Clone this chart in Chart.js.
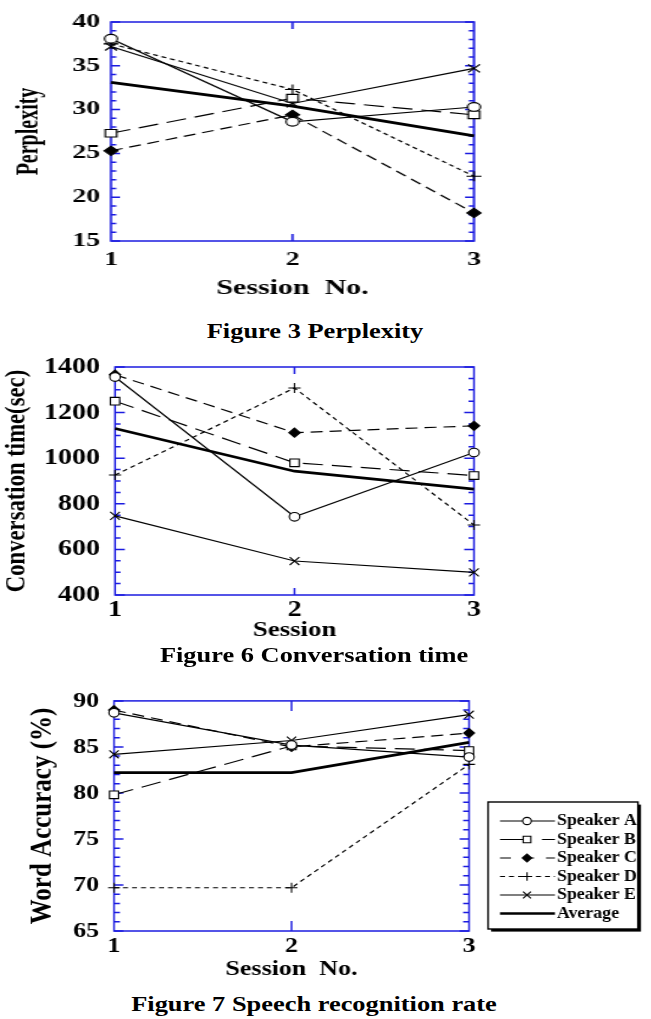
<!DOCTYPE html>
<html><head><meta charset="utf-8">
<script src="https://cdn.jsdelivr.net/npm/chart.js@4.4.0/dist/chart.umd.min.js"></script>
<style>
html,body{margin:0;padding:0;background:#fff;}
body{width:651px;height:1019px;overflow:hidden;position:relative;}
.wrap{position:absolute;left:0;transform-origin:0 0;}
.wrap canvas{display:block;}
.cap{position:absolute;font:bold 22px "Liberation Serif","Times New Roman",serif;white-space:nowrap;line-height:1;color:#000;transform:translate(-50%,-50%) scaleX(1.2);}
</style></head><body>
<div class="wrap" style="top:0;transform:scaleX(1.5)"><canvas id="c1" width="434" height="301"></canvas></div>
<div class="cap" style="left:315px;top:331px">Figure 3 Perplexity</div>
<div class="wrap" style="top:340px;transform:scaleX(1.22)"><canvas id="c2" width="534" height="304"></canvas></div>
<div class="cap" style="left:314px;top:655px">Figure 6 Conversation time</div>
<div class="wrap" style="top:675px;transform:scaleX(1.18)"><canvas id="c3" width="552" height="308"></canvas></div>
<div class="cap" style="left:314px;top:1004px">Figure 7 Speech recognition rate</div>
<script>
// ---------------- data ----------------
const sessions = ['1', '2', '3'];
const seriesNames = ['Speaker A', 'Speaker B', 'Speaker C', 'Speaker D', 'Speaker E', 'Average'];

// Figure 3 Perplexity
const pplA   = [38.1, 28.6, 30.3];
const pplB   = [27.3, 31.3, 29.4];
const pplC   = [25.3, 29.4, 18.2];
const pplD   = [37.5, 32.3, 22.4];
const pplE   = [37.2, 30.7, 34.7];
const pplAvg = [33.1, 30.4, 27.0];
const pplTicks = [15, 20, 25, 30, 35, 40];

// Figure 6 Conversation time (sec)
const convA   = [1356, 743, 1025];
const convB   = [1250, 980, 924];
const convC   = [1366, 1112, 1142];
const convD   = [926, 1308, 707];
const convE   = [747, 549, 499];
const convAvg = [1130, 943, 864];
const convTicks = [400, 600, 800, 1000, 1200, 1400];

// Figure 7 Word accuracy (%)
const accA   = [88.7, 85.2, 83.9];
const accB   = [79.8, 85.1, 84.6];
const accC   = [89.0, 85.0, 86.5];
const accD   = [69.7, 69.7, 83.1];
const accE   = [84.2, 85.7, 88.5];
const accAvg = [82.2, 82.2, 85.5];
const accTicks = [65, 70, 75, 80, 85, 90];

// ---------------- styles ----------------
const FONT = '"Liberation Serif","Times New Roman",serif';
const BLUE = '#1c1ce0';
const seriesStyle = [
  {point: 'circle',   r: 4.3, fill: '#ffffff', dash: [],      lw: 1.2, legendDash: []},
  {point: 'rect',     r: 5.4, fill: '#ffffff', dash: [20, 9], lw: 1.2, legendDash: [28, 14]},
  {point: 'rectRot',  r: 4.6, fill: '#000000', dash: [12, 7], lw: 1.2, legendDash: [11, 12]},
  {point: 'cross',    r: 5.0, fill: '#000000', dash: [5, 4],  lw: 1.2, legendDash: [5, 4]},
  {point: 'crossRot', r: 5.6, fill: '#000000', dash: [],      lw: 1.2, legendDash: []},
  {point: false,      r: 0,   fill: '#000000', dash: [],      lw: 2.7, legendDash: []}
];

Chart.defaults.font.family = FONT;
Chart.defaults.color = '#000';

function drawMarker(ctx, style, r, x, y, fill, bw) {
  ctx.save();
  ctx.fillStyle = fill; ctx.strokeStyle = '#000'; ctx.lineWidth = bw;
  if (Chart.helpers && Chart.helpers.drawPoint) {
    Chart.helpers.drawPoint(ctx, {pointStyle: style, radius: r, rotation: 0, borderWidth: bw}, x, y);
  } else {
    ctx.beginPath();
    if (style === 'circle') ctx.arc(x, y, r, 0, Math.PI * 2);
    else if (style === 'rect') { const s = r * Math.SQRT1_2; ctx.rect(x - s, y - s, 2 * s, 2 * s); }
    else if (style === 'rectRot') { ctx.moveTo(x - r, y); ctx.lineTo(x, y - r); ctx.lineTo(x + r, y); ctx.lineTo(x, y + r); ctx.closePath(); }
    else if (style === 'cross') { ctx.moveTo(x - r, y); ctx.lineTo(x + r, y); ctx.moveTo(x, y - r); ctx.lineTo(x, y + r); }
    else if (style === 'crossRot') { const s = r * Math.SQRT1_2; ctx.moveTo(x - s, y - s); ctx.lineTo(x + s, y + s); ctx.moveTo(x - s, y + s); ctx.lineTo(x + s, y - s); }
    if (style !== 'cross' && style !== 'crossRot') ctx.fill();
    ctx.stroke();
  }
  ctx.restore();
}

function framePlugin(f) {
  return {
    id: 'frameTicks',
    beforeDatasetsDraw(chart) {
      const ctx = chart.ctx, a = chart.chartArea, x = chart.scales.x, y = chart.scales.y;
      ctx.save();
      ctx.strokeStyle = BLUE; ctx.lineWidth = f.lw;
      ctx.beginPath();
      const n = Math.round((y.max - y.min) / f.minor);
      for (let k = 0; k <= n; k++) {
        const v = y.min + k * f.minor;
        const py = y.getPixelForValue(v);
        const major = Math.abs((v - y.min) / f.major - Math.round((v - y.min) / f.major)) < 1e-6;
        const len = major ? f.majorLen : f.minorLen;
        ctx.moveTo(a.left, py); ctx.lineTo(a.left + len, py);
        ctx.moveTo(a.right, py); ctx.lineTo(a.right - len, py);
      }
      for (let i = 1; i < chart.data.labels.length - 1; i++) {
        const px = x.getPixelForValue(i);
        ctx.moveTo(px, a.bottom); ctx.lineTo(px, a.bottom - f.xLen);
        ctx.moveTo(px, a.top); ctx.lineTo(px, a.top + f.xLen);
      }
      ctx.stroke();
      ctx.strokeRect(a.left, a.top, a.right - a.left, a.bottom - a.top);
      ctx.restore();
    }
  };
}

function legendPlugin(L) {
  return {
    id: 'boxLegend',
    afterDraw(chart) {
      const ctx = chart.ctx;
      ctx.save();
      ctx.fillStyle = '#000';
      ctx.fillRect(L.x + L.shadow, L.y + L.shadow, L.w, L.h);
      ctx.fillStyle = '#fff';
      ctx.fillRect(L.x, L.y, L.w, L.h);
      ctx.strokeStyle = '#000'; ctx.lineWidth = 1.4;
      ctx.strokeRect(L.x, L.y, L.w, L.h);
      chart.data.datasets.forEach((ds, i) => {
        const yy = L.rowY + i * L.rowH;
        ctx.strokeStyle = '#000';
        ctx.lineWidth = ds.borderWidth;
        ctx.setLineDash(seriesStyle[i].legendDash.map(d => d / L.s));
        ctx.beginPath(); ctx.moveTo(L.x1, yy); ctx.lineTo(L.x2, yy); ctx.stroke();
        ctx.setLineDash([]);
        if (ds.pointRadius > 0) drawMarker(ctx, ds.pointStyle, ds.pointRadius * 0.85, L.xm, yy, ds.pointBackgroundColor, ds.pointBorderWidth);
        ctx.save();
        ctx.translate(L.xt, yy);
        ctx.scale(L.textSX, 1);
        ctx.fillStyle = '#000';
        ctx.font = L.font;
        ctx.textBaseline = 'middle'; ctx.textAlign = 'left';
        ctx.fillText(ds.label, 0, 0);
        ctx.restore();
      });
      ctx.restore();
    }
  };
}

function buildDatasets(values, s) {
  return values.map((vals, i) => {
    const st = seriesStyle[i];
    return {
      label: seriesNames[i],
      data: vals,
      borderColor: '#000',
      borderWidth: st.lw,
      borderDash: st.dash.map(d => d / s),
      pointStyle: st.point || 'circle',
      pointRadius: st.point ? st.r : 0,
      pointBackgroundColor: st.fill,
      pointBorderColor: '#000',
      pointBorderWidth: 1.1,
      fill: false,
      tension: 0,
      clip: false
    };
  });
}

function makeChart(id, values, ticks, c) {
  const plugins = [framePlugin(c.frame)];
  if (c.legend) plugins.push(legendPlugin(c.legend));
  return new Chart(document.getElementById(id), {
    type: 'line',
    data: {labels: sessions, datasets: buildDatasets(values, c.s)},
    options: {
      responsive: false, animation: false, devicePixelRatio: 1,
      layout: {padding: c.pad},
      plugins: {legend: {display: false}, tooltip: {enabled: false}},
      scales: {
        x: {
          type: 'category', offset: false,
          grid: {display: false, drawTicks: false, tickLength: 0},
          border: {display: false},
          ticks: {font: {size: c.xTickSize, weight: 'bold'}, color: '#000', padding: c.xTickPad, maxRotation: 0, autoSkip: false},
          title: {display: true, text: c.xTitle, color: '#000', font: {size: c.xTitleSize, weight: 'bold'}, padding: {top: 0, bottom: c.xTitlePad}},
          afterFit: (sc) => { sc.height = c.xHeight; }
        },
        y: {
          type: 'linear', min: ticks[0], max: ticks[ticks.length - 1],
          grid: {display: false, drawTicks: false, tickLength: 0},
          border: {display: false},
          ticks: {stepSize: ticks[1] - ticks[0], font: {size: c.yTickSize, weight: 'bold'}, color: '#000', padding: c.yTickPad, autoSkip: false, callback: (v) => String(v)},
          title: {display: true, text: c.yTitle, color: '#000', font: {size: c.yTitleSize, weight: c.yTitleWeight}, padding: {top: c.yTitlePad, bottom: 0}},
          afterFit: (sc) => { sc.width = c.yWidth; }
        }
      }
    },
    plugins
  });
}

makeChart('c1', [pplA, pplB, pplC, pplD, pplE, pplAvg], pplTicks, {
  s: 1.5,
  pad: {top: 22, right: 118, bottom: 0, left: 0},
  xHeight: 60, yWidth: 74,
  xTickSize: 18.5, xTickPad: 8, xTitle: 'Session  No.', xTitleSize: 20, xTitlePad: 0,
  yTickSize: 18.5, yTickPad: 7.3, yTitle: 'Perplexity', yTitleSize: 20, yTitleWeight: 'bold', yTitlePad: 8,
  frame: {lw: 1.5, minor: 1, major: 5, majorLen: 6, minorLen: 3.5, xLen: 7}
});

makeChart('c2', [convA, convB, convC, convD, convE, convAvg], convTicks, {
  s: 1.22,
  pad: {top: 27, right: 145.5, bottom: 0, left: 0},
  xHeight: 49, yWidth: 94.3,
  xTickSize: 23, xTickPad: 1.2, xTitle: 'Session', xTitleSize: 22, xTitlePad: 0,
  yTickSize: 23, yTickPad: 12.3, yTitle: 'Conversation time(sec)', yTitleSize: 22.7, yTitleWeight: 'bold', yTitlePad: 0.3,
  frame: {lw: 1.5, minor: 50, major: 200, majorLen: 8, minorLen: 4.5, xLen: 7}
});

makeChart('c3', [accA, accB, accC, accD, accE, accAvg], accTicks, {
  s: 1.18,
  pad: {top: 20, right: 154.5, bottom: 0, left: 0},
  xHeight: 52, yWidth: 96.6,
  xTickSize: 22, xTickPad: 2, xTitle: 'Session  No.', xTitleSize: 22, xTitlePad: 0,
  yTickSize: 22, yTickPad: 12.7, yTitle: 'Word Accuracy (%)', yTitleSize: 25, yTitleWeight: 'bold', yTitlePad: 21.4,
  frame: {lw: 1.5, minor: 1, major: 5, majorLen: 8, minorLen: 5, xLen: 10},
  legend: {s: 1.18, x: 413.6, y: 127, w: 127, h: 127, shadow: 2.6,
           rowY: 146, rowH: 18.5, x1: 423.7, x2: 470.3, xm: 446.6, xt: 472, textSX: 0.89,
           font: 'bold 17px ' + FONT}
});
</script>
</body></html>
